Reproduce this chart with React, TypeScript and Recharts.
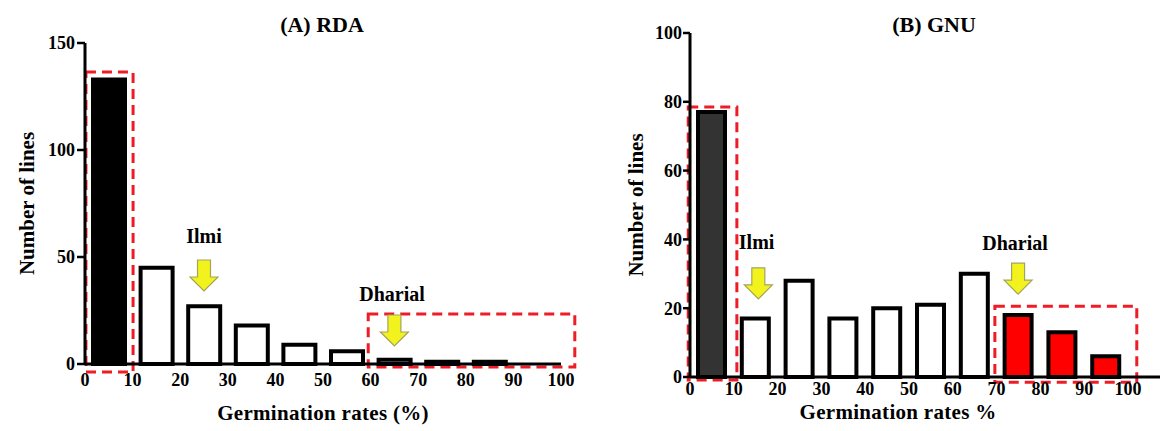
import React from "react";
import {
  BarChart,
  Bar,
  XAxis,
  YAxis,
  Cell,
  ReferenceArea,
  ReferenceDot,
} from "recharts";

// ---- data ----
const binCenters = [5, 15, 25, 35, 45, 55, 65, 75, 85, 95];
const rdaCounts = [133, 45, 27, 18, 9, 6, 2, 1, 1, 0];
const gnuCounts = [77, 17, 28, 17, 20, 21, 30, 18, 13, 6];
const xTicks = [0, 10, 20, 30, 40, 50, 60, 70, 80, 90, 100];
const rdaYTicks = [0, 50, 100, 150];
const gnuYTicks = [0, 20, 40, 60, 80, 100];

// annotation anchors (data coordinates)
const rdaArrows = [
  { name: "Ilmi", x: 25, y: 48.6, labelX: 25, labelY: 59.8 },
  { name: "Dharial", x: 65, y: 22.9, labelX: 64.5, labelY: 32.7 },
];
const gnuArrows = [
  { name: "Ilmi", x: 15.6, y: 31.7, labelX: 15.2, labelY: 39.2 },
  { name: "Dharial", x: 74.9, y: 33.1, labelX: 74.2, labelY: 39 },
];
// highlighted regions (data coordinates)
const rdaBoxes = [
  { x1: 0.2, x2: 10.1, y1: -3.7, y2: 136.4 },
  { x1: 59.5, x2: 102.9, y1: -1.4, y2: 23.4 },
];
const gnuBoxes = [
  { x1: -0.4, x2: 10.7, y1: -0.9, y2: 78.5 },
  { x1: 69.6, x2: 102, y1: -1.5, y2: 20.6 },
];

// ---- styles ----
const rdaFills = ["#000000", "#ffffff", "#ffffff", "#ffffff", "#ffffff", "#ffffff", "#ffffff", "#ffffff", "#ffffff", "#ffffff"];
const gnuFills = ["#333333", "#ffffff", "#ffffff", "#ffffff", "#ffffff", "#ffffff", "#ffffff", "#ff0000", "#ff0000", "#ff0000"];

const FONT = "'Times New Roman', Tinos, 'Liberation Serif', 'Noto Serif', FreeSerif, 'DejaVu Serif', Times, serif";
const RED = "#ee1c25";

const rdaData = binCenters.map((b, i) => ({ bin: b, count: rdaCounts[i] }));
const gnuData = binCenters.map((b, i) => ({ bin: b, count: gnuCounts[i] }));

const tickStyle = { fill: "#000", fontSize: 18, fontWeight: "bold", fontFamily: FONT };

const arrowShape = (props: any) => {
  const { cx, cy } = props;
  const sw = 6.5;
  const hw = 14;
  const sh = 17;
  const h = 31;
  const pts = [
    [cx - sw, cy],
    [cx + sw, cy],
    [cx + sw, cy + sh],
    [cx + hw, cy + sh],
    [cx, cy + h],
    [cx - hw, cy + sh],
    [cx - sw, cy + sh],
  ]
    .map((p) => p.join(","))
    .join(" ");
  return <polygon points={pts} fill="#f2f21c" stroke="#a3a35e" strokeWidth={1.2} />;
};

const textShape = (txt: string) => (props: any) => (
  <text
    x={props.cx}
    y={props.cy}
    textAnchor="middle"
    dominantBaseline="central"
    style={{ fontFamily: FONT, fontWeight: "bold", fontSize: 20 }}
    fill="#000"
  >
    {txt}
  </text>
);

const yLabel = (dx: number) => (props: any) => {
  const vb = props.viewBox || {};
  const x = vb.x + dx;
  const y = vb.y + vb.height / 2;
  return (
    <text
      x={x}
      y={y}
      transform={`rotate(-90 ${x} ${y})`}
      textAnchor="middle"
      dominantBaseline="central"
      style={{ fontFamily: FONT, fontWeight: "bold", fontSize: 21 }}
      fill="#000"
    >
      Number of lines
    </text>
  );
};

const xLabel = (txt: string, dx: number, dy: number) => (props: any) => {
  const vb = props.viewBox || {};
  return (
    <text
      x={vb.x + vb.width / 2 + dx}
      y={vb.y + dy}
      textAnchor="middle"
      style={{ fontFamily: FONT, fontWeight: "bold", fontSize: 21, letterSpacing: 0.3 }}
      fill="#000"
    >
      {txt}
    </text>
  );
};

const Title = ({ text, cx }: { text: string; cx: number }) => (
  <div
    style={{
      position: "absolute",
      left: cx - 100,
      top: 14,
      width: 200,
      textAlign: "center",
      fontFamily: FONT,
      fontWeight: "bold",
      fontSize: 22,
      lineHeight: "22px",
      color: "#000",
    }}
  >
    {text}
  </div>
);

export default function App() {
  return (
    <div
      style={{
        position: "absolute",
        left: 0,
        top: 0,
        width: 1167,
        height: 431,
        background: "#fff",
        overflow: "hidden",
        fontFamily: FONT,
      }}
    >
      <div style={{ position: "absolute", left: 0, top: 0 }}>
        <BarChart width={583} height={431} data={rdaData} margin={{ top: 43, right: 22, bottom: 0, left: 0 }}>
          <XAxis
            dataKey="bin"
            type="number"
            domain={[0, 100]}
            ticks={xTicks}
            interval={0}
            tickLine={false}
            tickSize={7}
            tickMargin={2}
            height={67}
            axisLine={{ stroke: "#000", strokeWidth: 3 }}
            tick={tickStyle}
            label={{ content: xLabel("Germination rates (%)", 0, 56) }}
          />
          <YAxis
            type="number"
            domain={[0, 150]}
            ticks={rdaYTicks}
            interval={0}
            width={85}
            tickSize={8}
            tickMargin={2}
            axisLine={{ stroke: "#000", strokeWidth: 3 }}
            tickLine={{ stroke: "#000", strokeWidth: 2.5 }}
            tick={tickStyle}
            label={{ content: yLabel(27) }}
          />
          <Bar dataKey="count" barSize={32} stroke="#000" strokeWidth={4} isAnimationActive={false}>
            {rdaData.map((d, i) => (
              <Cell key={i} fill={rdaFills[i]} />
            ))}
          </Bar>
          {rdaBoxes.map((b, i) => (
            <ReferenceArea
              key={"ra" + i}
              x1={b.x1}
              x2={b.x2}
              y1={b.y1}
              y2={b.y2}
              ifOverflow="visible"
              fill="none"
              fillOpacity={0}
              stroke={RED}
              strokeWidth={3}
              strokeDasharray="10 6"
            />
          ))}
          {rdaArrows.map((a, i) => (
            <ReferenceDot key={"aa" + i} x={a.x} y={a.y} ifOverflow="visible" shape={arrowShape} />
          ))}
          {rdaArrows.map((a, i) => (
            <ReferenceDot key={"al" + i} x={a.labelX} y={a.labelY} ifOverflow="visible" shape={textShape(a.name)} />
          ))}
        </BarChart>
      </div>
      <div style={{ position: "absolute", left: 583, top: 0 }}>
        <BarChart width={584} height={431} data={gnuData} margin={{ top: 33, right: 7, bottom: 0, left: 0 }}>
          <XAxis
            dataKey="bin"
            type="number"
            domain={[0, 107.3]}
            ticks={xTicks}
            interval={0}
            tickLine={false}
            tickSize={3}
            tickMargin={2}
            height={54}
            axisLine={{ stroke: "#000", strokeWidth: 3 }}
            tick={tickStyle}
            label={{ content: xLabel("Germination rates %", -27, 42) }}
          />
          <YAxis
            type="number"
            domain={[0, 100]}
            ticks={gnuYTicks}
            interval={0}
            width={107}
            tickSize={7}
            tickMargin={1}
            axisLine={{ stroke: "#000", strokeWidth: 3 }}
            tickLine={{ stroke: "#000", strokeWidth: 2.5 }}
            tick={tickStyle}
            label={{ content: yLabel(53) }}
          />
          <Bar dataKey="count" barSize={27} stroke="#000" strokeWidth={4} isAnimationActive={false}>
            {gnuData.map((d, i) => (
              <Cell key={i} fill={gnuFills[i]} />
            ))}
          </Bar>
          {gnuBoxes.map((b, i) => (
            <ReferenceArea
              key={"rb" + i}
              x1={b.x1}
              x2={b.x2}
              y1={b.y1}
              y2={b.y2}
              ifOverflow="visible"
              fill="none"
              fillOpacity={0}
              stroke={RED}
              strokeWidth={3}
              strokeDasharray="10 6"
            />
          ))}
          {gnuArrows.map((a, i) => (
            <ReferenceDot key={"ba" + i} x={a.x} y={a.y} ifOverflow="visible" shape={arrowShape} />
          ))}
          {gnuArrows.map((a, i) => (
            <ReferenceDot key={"bl" + i} x={a.labelX} y={a.labelY} ifOverflow="visible" shape={textShape(a.name)} />
          ))}
        </BarChart>
      </div>
      <Title text="(A) RDA" cx={322} />
      <Title text="(B) GNU" cx={934} />
    </div>
  );
}
